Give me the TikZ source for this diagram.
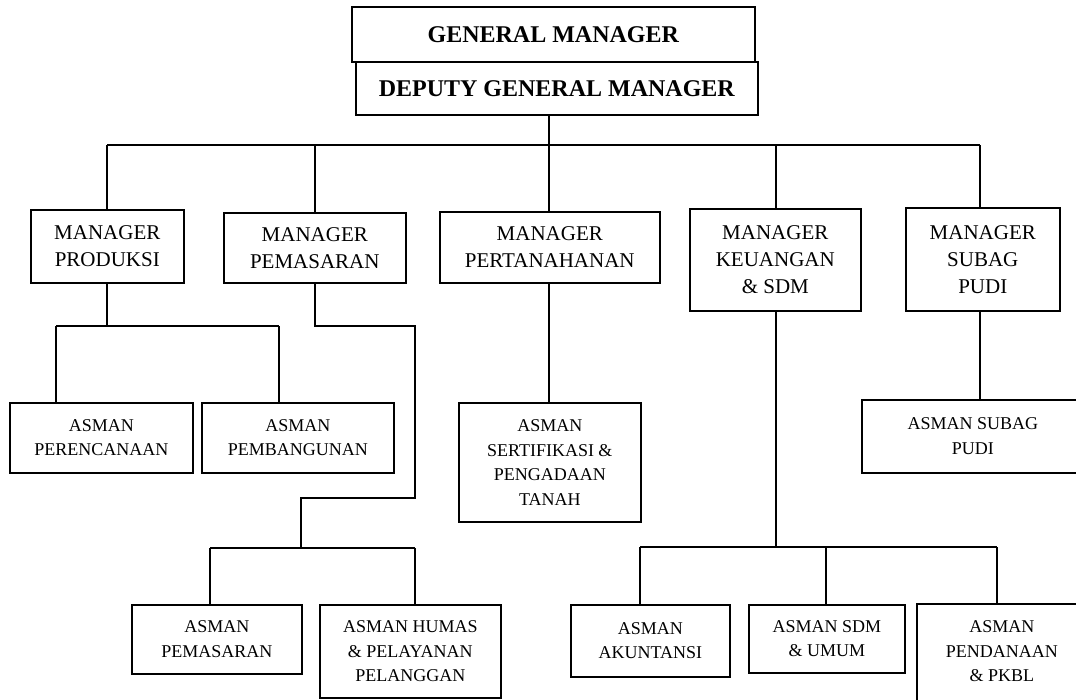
\documentclass[tikz,border=0pt]{standalone}
\usepackage{fontspec}
\setmainfont{Liberation Serif}
\begin{document}
\begin{tikzpicture}[x=1pt,y=-1pt,
  line width=1.6pt,
  box/.style={draw, line width=1.6pt, anchor=north west, inner sep=0pt, align=center},
  topbox/.style={box, font={\fontsize{24}{28}\selectfont\bfseries}},
  mgrbox/.style={box, font={\fontsize{21}{27}\selectfont}},
  asmbox/.style={box, font={\fontsize{18}{24.5}\selectfont}},
  conn/.style={line width=1.6pt}]
\useasboundingbox (0,0) rectangle (1076,699);
\clip (0,0) rectangle (1076,699);
% top
\node[topbox, minimum width=403pt, minimum height=55pt] (gm) at (351,6) {GENERAL MANAGER};
\node[topbox, minimum width=402pt, minimum height=53pt] (dgm) at (355,61) {DEPUTY GENERAL MANAGER};
% managers
\node[mgrbox, minimum width=153pt, minimum height=73pt] (mprod) at (30,209) {MANAGER\\PRODUKSI};
\node[mgrbox, minimum width=182pt, minimum height=70pt] (mpem) at (223,212) {MANAGER\\PEMASARAN};
\node[mgrbox, minimum width=220pt, minimum height=71pt] (mtan) at (439,211) {MANAGER\\PERTANAHANAN};
\node[mgrbox, minimum width=171pt, minimum height=102pt] (mkeu) at (689,208) {MANAGER\\KEUANGAN\\\& SDM};
\node[mgrbox, minimum width=154pt, minimum height=103pt] (msub) at (905,207) {MANAGER\\SUBAG\\PUDI};
% asman
\node[asmbox, minimum width=183pt, minimum height=70pt] (aper) at (9,402) {ASMAN\\PERENCANAAN};
\node[asmbox, minimum width=192pt, minimum height=70pt] (apemb) at (201,402) {ASMAN\\PEMBANGUNAN};
\node[asmbox, minimum width=182pt, minimum height=119pt] (aser) at (458,402) {ASMAN\\SERTIFIKASI \&\\PENGADAAN\\TANAH};
\node[asmbox, minimum width=222pt, minimum height=73pt] (asub) at (861,399) {ASMAN SUBAG\\PUDI};
\node[asmbox, minimum width=170pt, minimum height=69pt] (apas) at (131,604) {ASMAN\\PEMASARAN};
\node[asmbox, minimum width=181pt, minimum height=93pt] (ahum) at (319,604) {ASMAN HUMAS\\\& PELAYANAN\\PELANGGAN};
\node[asmbox, minimum width=159pt, minimum height=72pt] (aak) at (570,604) {ASMAN\\AKUNTANSI};
\node[asmbox, minimum width=156pt, minimum height=68pt] (asdm) at (748,604) {ASMAN SDM\\\& UMUM};
% this box runs past the lower and right edges of the picture
\node[asmbox, draw=none, minimum width=168pt, minimum height=93pt] (apend) at (917,604) {ASMAN\\PENDANAAN\\\& PKBL};
\draw[conn] ([yshift=-40pt]apend.south west) |- (apend.north east) -- ([yshift=-40pt]apend.south east);
% main bus
\coordinate (b1) at (107,145);
\coordinate (b2) at (315,145);
\coordinate (b3) at (549,145);
\coordinate (b4) at (776,145);
\coordinate (b5) at (980,145);
\draw[conn] (dgm.south -| b3) -- (b3);
\draw[conn] (b1) -- (b5);
\draw[conn] (b1) -- (b1 |- mprod.north);
\draw[conn] (b2) -- (b2 |- mpem.north);
\draw[conn] (b3) -- (b3 |- mtan.north);
\draw[conn] (b4) -- (b4 |- mkeu.north);
\draw[conn] (b5) -- (b5 |- msub.north);
% produksi
\coordinate (p0) at (107,326);
\coordinate (p1) at (56,326);
\coordinate (p2) at (279,326);
\draw[conn] (mprod.south -| p0) -- (p0);
\draw[conn] (p1) -- (p2);
\draw[conn] (p1) -- (p1 |- aper.north);
\draw[conn] (p2) -- (p2 |- apemb.north);
% pemasaran
\coordinate (q0) at (315,326);
\coordinate (q1) at (415,498);
\coordinate (q2) at (301,548);
\coordinate (q3) at (210,548);
\coordinate (q4) at (415,548);
\draw[conn] (mpem.south -| q0) -- (q0) -| (q1) -| (q2);
\draw[conn] (q3) -- (q4);
\draw[conn] (q3) -- (q3 |- apas.north);
\draw[conn] (q4) -- (q4 |- ahum.north);
% pertanahan
\draw[conn] (mtan.south -| b3) -- (b3 |- aser.north);
% keuangan
\coordinate (k0) at (776,547);
\coordinate (k1) at (640,547);
\coordinate (k2) at (826,547);
\coordinate (k3) at (997,547);
\draw[conn] (mkeu.south -| k0) -- (k0);
\draw[conn] (k1) -- (k3);
\draw[conn] (k1) -- (k1 |- aak.north);
\draw[conn] (k2) -- (k2 |- asdm.north);
\draw[conn] (k3) -- (k3 |- apend.north);
% subag
\draw[conn] (msub.south -| b5) -- (b5 |- asub.north);
\end{tikzpicture}
\end{document}
